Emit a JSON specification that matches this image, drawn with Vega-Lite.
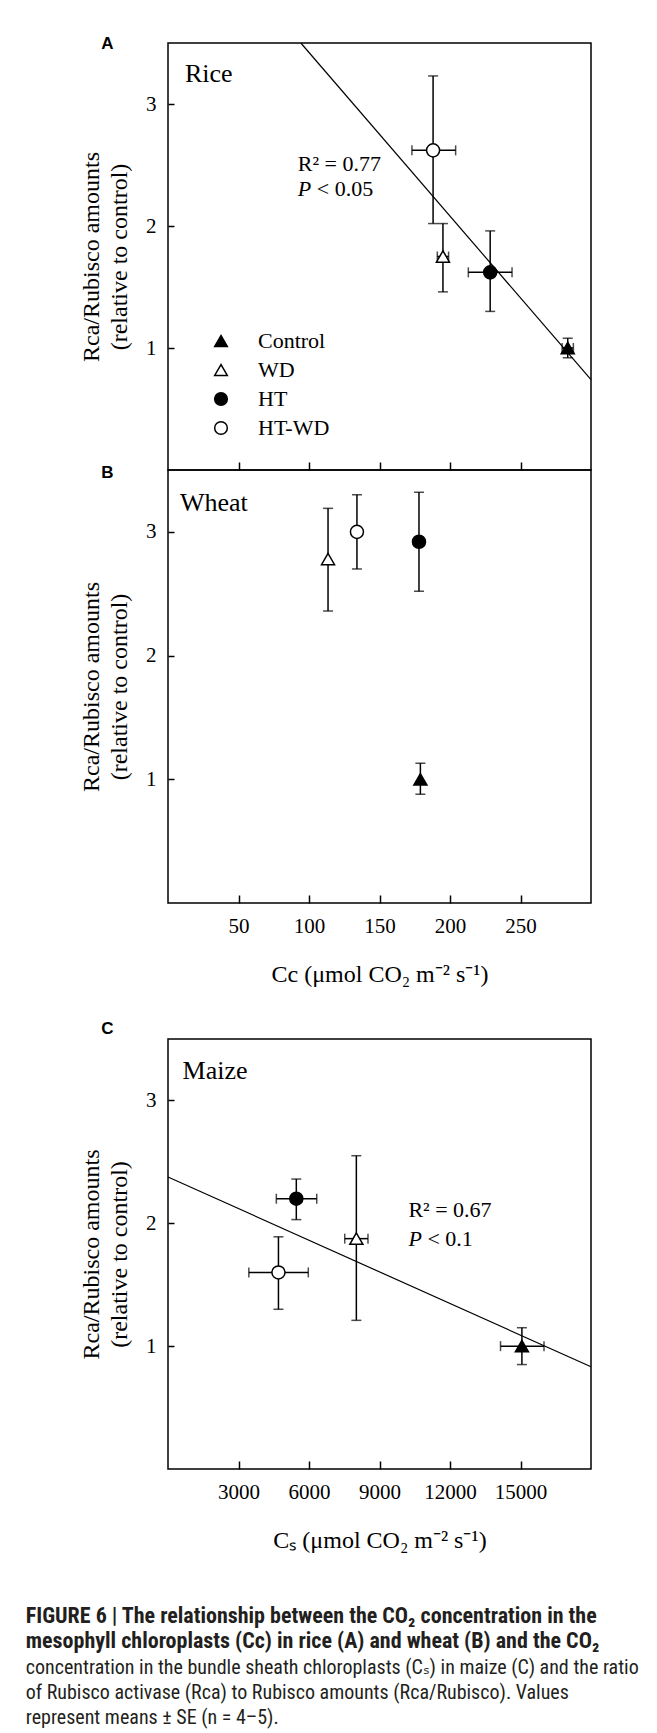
{
  "$schema": "https://vega.github.io/schema/vega-lite/v6.json",
  "background": "white",
  "padding": {"left": 25, "top": 34, "right": 10, "bottom": 4},
  "config": {
    "font": "Liberation Serif",
    "view": {"stroke": "black", "strokeWidth": 1.5},
    "axis": {"grid": false, "domain": false, "ticks": true, "tickColor": "black", "tickWidth": 1.5, "labelFont": "Liberation Serif", "labelFontSize": 21, "labelColor": "black", "titleFont": "Liberation Serif", "titleFontSize": 24, "titleFontWeight": "normal", "titleColor": "black"},
    "text": {"font": "Liberation Serif", "color": "black"}
  },
  "title": {
    "text": ["FIGURE 6 | The relationship between the CO₂ concentration in the", "mesophyll chloroplasts (Cc) in rice (A) and wheat (B) and the CO₂"],
    "subtitle": ["concentration in the bundle sheath chloroplasts (Cₛ) in maize (C) and the ratio", "of Rubisco activase (Rca) to Rubisco amounts (Rca/Rubisco). Values", "represent means ± SE (n = 4–5)."],
    "orient": "bottom", "anchor": "start", "frame": "bounds", "dx": -53, "offset": 53,
    "font": "Liberation Sans Narrow, Roboto Condensed, DejaVu Sans Condensed, Roboto, sans-serif", "fontSize": 22, "fontWeight": "bold", "color": "#231f20", "lineHeight": 25,
    "subtitleFont": "Liberation Sans Narrow, Roboto Condensed, DejaVu Sans Condensed, Roboto, sans-serif", "subtitleFontSize": 20, "subtitleFontWeight": "normal", "subtitleColor": "#231f20", "subtitleLineHeight": 25, "subtitlePadding": 5
  },
  "datasets": {
    "rice": [
      {"trt": "Control", "x": 283.5, "y": 1.0, "xlo": 279.5, "xhi": 287.5, "ylo": 0.92, "yhi": 1.08},
      {"trt": "WD", "x": 195, "y": 1.75, "xlo": 191, "xhi": 199, "ylo": 1.46, "yhi": 2.02},
      {"trt": "HT", "x": 228.5, "y": 1.62, "xlo": 213, "xhi": 244, "ylo": 1.3, "yhi": 1.96},
      {"trt": "HT-WD", "x": 188, "y": 2.62, "xlo": 173, "xhi": 204, "ylo": 2.02, "yhi": 3.23}
    ],
    "riceFit": [{"x": 94.2, "y": 3.5}, {"x": 300, "y": 0.74}],
    "wheat": [
      {"trt": "Control", "x": 179, "y": 1.0, "ylo": 0.88, "yhi": 1.13},
      {"trt": "WD", "x": 113.5, "y": 2.78, "ylo": 2.36, "yhi": 3.19},
      {"trt": "HT", "x": 178, "y": 2.92, "ylo": 2.52, "yhi": 3.32},
      {"trt": "HT-WD", "x": 134, "y": 3.0, "ylo": 2.7, "yhi": 3.3}
    ],
    "maize": [
      {"trt": "Control", "x": 15060, "y": 1.0, "xlo": 14150, "xhi": 16000, "ylo": 0.85, "yhi": 1.15},
      {"trt": "WD", "x": 8015, "y": 1.875, "xlo": 7520, "xhi": 8510, "ylo": 1.21, "yhi": 2.55},
      {"trt": "HT", "x": 5460, "y": 2.2, "xlo": 4610, "xhi": 6330, "ylo": 2.03, "yhi": 2.36},
      {"trt": "HT-WD", "x": 4700, "y": 1.6, "xlo": 3440, "xhi": 5970, "ylo": 1.3, "yhi": 1.89}
    ],
    "maizeFit": [{"x": 0, "y": 2.377}, {"x": 18000, "y": 0.832}],
    "notesA": [
      {"kind": "species", "label": "Rice", "x": 12, "y": 3.25},
      {"kind": "stat", "label": "R² = 0.77", "x": 92, "y": 2.51},
      {"kind": "p", "label": "P", "x": 92, "y": 2.3},
      {"kind": "pval", "label": "< 0.05", "x": 92, "y": 2.3},
      {"kind": "letter", "label": "A", "x": -43, "y": 3.49}
    ],
    "notesB": [
      {"kind": "species", "label": "Wheat", "x": 8.5, "y": 3.23},
      {"kind": "letter", "label": "B", "x": -43, "y": 3.476}
    ],
    "notesC": [
      {"kind": "species", "label": "Maize", "x": 622, "y": 3.24},
      {"kind": "stat", "label": "R² = 0.67", "x": 10229, "y": 2.11},
      {"kind": "p", "label": "P", "x": 10229, "y": 1.87},
      {"kind": "pval", "label": "< 0.1", "x": 10229, "y": 1.87},
      {"kind": "letter", "label": "C", "x": -2584, "y": 3.58}
    ]
  },
  "resolve": {"legend": {"shape": "independent", "fill": "independent"}},
  "spacing": 32,
  "vconcat": [
    {
      "spacing": 0,
      "bounds": "flush",
      "resolve": {"legend": {"shape": "independent", "fill": "independent"}},
      "vconcat": [
        {
          "width": 423, "height": 427,
          "layer": [
            {
              "data": {"name": "riceFit"},
              "mark": {"type": "line", "color": "black", "strokeWidth": 1.2},
              "encoding": {
                "x": {"field": "x", "type": "quantitative", "scale": {"domain": [0, 300], "nice": false}, "axis": {"values": [50, 100, 150, 200, 250], "labels": false, "title": null, "offset": -8, "tickSize": 8}},
                "y": {"field": "y", "type": "quantitative", "scale": {"domain": [0, 3.5], "nice": false}, "axis": {"values": [1, 2, 3], "format": "d", "offset": -6, "tickSize": 6, "labelPadding": 12, "title": ["Rca/Rubisco amounts", "(relative to control)"], "titleLineHeight": 28, "titlePadding": 14}}
              }
            },
            {
              "data": {"name": "rice"},
              "mark": {"type": "errorbar", "thickness": 1.5, "color": "black", "ticks": {"size": 10, "thickness": 1.5, "color": "black"}},
              "encoding": {
                "x": {"field": "x", "type": "quantitative", "title": "", "scale": {"domain": [0, 300], "nice": false}},
                "y": {"field": "ylo", "type": "quantitative", "title": "", "scale": {"domain": [0, 3.5], "nice": false}},
                "y2": {"field": "yhi"}
              }
            },
            {
              "data": {"name": "rice"},
              "mark": {"type": "errorbar", "thickness": 1.5, "color": "black", "ticks": {"size": 10, "thickness": 1.5, "color": "black"}},
              "encoding": {
                "y": {"field": "y", "type": "quantitative", "title": "", "scale": {"domain": [0, 3.5], "nice": false}},
                "x": {"field": "xlo", "type": "quantitative", "title": "", "scale": {"domain": [0, 300], "nice": false}},
                "x2": {"field": "xhi"}
              }
            },
            {
              "data": {"name": "rice"},
              "mark": {"type": "point", "filled": false, "color": "black", "strokeWidth": 1.5, "size": 170, "opacity": 1},
              "encoding": {
                "x": {"field": "x", "type": "quantitative", "scale": {"domain": [0, 300], "nice": false}},
                "y": {"field": "y", "type": "quantitative", "scale": {"domain": [0, 3.5], "nice": false}},
                "shape": {"field": "trt", "type": "nominal", "scale": {"domain": ["Control", "WD", "HT", "HT-WD"], "range": ["triangle-up", "triangle-up", "circle", "circle"]},
                          "legend": {"title": null, "orient": "none", "legendX": 42, "legendY": 287, "labelFont": "Liberation Serif", "labelFontSize": 22, "labelColor": "black", "rowPadding": 7, "labelOffset": 26, "symbolSize": 160, "padding": 0,
                                     "encode": {"symbols": {"stroke": {"value": "black"}, "strokeWidth": {"value": 1.5}}}}},
                "fill": {"field": "trt", "type": "nominal", "scale": {"domain": ["Control", "WD", "HT", "HT-WD"], "range": ["black", "white", "black", "white"]},
                         "legend": {"title": null, "orient": "none", "legendX": 42, "legendY": 287, "labelFont": "Liberation Serif", "labelFontSize": 22, "labelColor": "black", "rowPadding": 7, "labelOffset": 26, "symbolSize": 160, "padding": 0,
                                    "encode": {"symbols": {"stroke": {"value": "black"}, "strokeWidth": {"value": 1.5}}}}}
              }
            },
            {
              "data": {"name": "notesA"},
              "transform": [{"filter": "datum.kind === 'species'"}],
              "mark": {"type": "text", "align": "left", "baseline": "middle", "fontSize": 26},
              "encoding": {"x": {"field": "x", "type": "quantitative", "scale": {"domain": [0, 300], "nice": false}}, "y": {"field": "y", "type": "quantitative", "scale": {"domain": [0, 3.5], "nice": false}}, "text": {"field": "label"}}
            },
            {
              "data": {"name": "notesA"},
              "transform": [{"filter": "datum.kind === 'stat'"}],
              "mark": {"type": "text", "align": "left", "baseline": "middle", "fontSize": 22},
              "encoding": {"x": {"field": "x", "type": "quantitative", "scale": {"domain": [0, 300], "nice": false}}, "y": {"field": "y", "type": "quantitative", "scale": {"domain": [0, 3.5], "nice": false}}, "text": {"field": "label"}}
            },
            {
              "data": {"name": "notesA"},
              "transform": [{"filter": "datum.kind === 'pval'"}],
              "mark": {"type": "text", "align": "left", "baseline": "middle", "fontSize": 22, "dx": 19},
              "encoding": {"x": {"field": "x", "type": "quantitative", "scale": {"domain": [0, 300], "nice": false}}, "y": {"field": "y", "type": "quantitative", "scale": {"domain": [0, 3.5], "nice": false}}, "text": {"field": "label"}}
            },
            {
              "data": {"name": "notesA"},
              "transform": [{"filter": "datum.kind === 'p'"}],
              "mark": {"type": "text", "align": "left", "baseline": "middle", "fontSize": 22, "fontStyle": "italic"},
              "encoding": {"x": {"field": "x", "type": "quantitative", "scale": {"domain": [0, 300], "nice": false}}, "y": {"field": "y", "type": "quantitative", "scale": {"domain": [0, 3.5], "nice": false}}, "text": {"field": "label"}}
            },
            {
              "data": {"name": "notesA"},
              "transform": [{"filter": "datum.kind === 'letter'"}],
              "mark": {"type": "text", "align": "center", "baseline": "middle", "fontSize": 17, "font": "Liberation Sans", "fontWeight": "bold"},
              "encoding": {"x": {"field": "x", "type": "quantitative", "scale": {"domain": [0, 300], "nice": false}}, "y": {"field": "y", "type": "quantitative", "scale": {"domain": [0, 3.5], "nice": false}}, "text": {"field": "label"}}
            }
          ]
        },
        {
          "width": 423, "height": 433,
          "layer": [
            {
              "data": {"name": "wheat"},
              "mark": {"type": "errorbar", "thickness": 1.5, "color": "black", "ticks": {"size": 10, "thickness": 1.5, "color": "black"}},
              "encoding": {
                "x": {"field": "x", "type": "quantitative", "scale": {"domain": [0, 300], "nice": false}, "axis": {"values": [50, 100, 150, 200, 250], "format": "d", "offset": -8, "tickSize": 8, "labelPadding": 12, "title": "Cc (μmol CO₂ m⁻² s⁻¹)", "titlePadding": 26}},
                "y": {"field": "ylo", "type": "quantitative", "scale": {"domain": [0, 3.5], "nice": false}, "axis": {"values": [1, 2, 3], "format": "d", "offset": -6, "tickSize": 6, "labelPadding": 12, "title": ["Rca/Rubisco amounts", "(relative to control)"], "titleLineHeight": 28, "titlePadding": 14}},
                "y2": {"field": "yhi"}
              }
            },
            {
              "data": {"name": "wheat"},
              "mark": {"type": "point", "filled": false, "color": "black", "strokeWidth": 1.5, "size": 170, "opacity": 1},
              "encoding": {
                "x": {"field": "x", "type": "quantitative", "scale": {"domain": [0, 300], "nice": false}},
                "y": {"field": "y", "type": "quantitative", "scale": {"domain": [0, 3.5], "nice": false}},
                "shape": {"field": "trt", "type": "nominal", "scale": {"domain": ["Control", "WD", "HT", "HT-WD"], "range": ["triangle-up", "triangle-up", "circle", "circle"]}, "legend": null},
                "fill": {"field": "trt", "type": "nominal", "scale": {"domain": ["Control", "WD", "HT", "HT-WD"], "range": ["black", "white", "black", "white"]}, "legend": null}
              }
            },
            {
              "data": {"name": "notesB"},
              "transform": [{"filter": "datum.kind === 'species'"}],
              "mark": {"type": "text", "align": "left", "baseline": "middle", "fontSize": 26},
              "encoding": {"x": {"field": "x", "type": "quantitative", "scale": {"domain": [0, 300], "nice": false}}, "y": {"field": "y", "type": "quantitative", "scale": {"domain": [0, 3.5], "nice": false}}, "text": {"field": "label"}}
            },
            {
              "data": {"name": "notesB"},
              "transform": [{"filter": "datum.kind === 'letter'"}],
              "mark": {"type": "text", "align": "center", "baseline": "middle", "fontSize": 17, "font": "Liberation Sans", "fontWeight": "bold"},
              "encoding": {"x": {"field": "x", "type": "quantitative", "scale": {"domain": [0, 300], "nice": false}}, "y": {"field": "y", "type": "quantitative", "scale": {"domain": [0, 3.5], "nice": false}}, "text": {"field": "label"}}
            }
          ]
        }
      ]
    },
    {
      "width": 423, "height": 430,
      "layer": [
        {
          "data": {"name": "maizeFit"},
          "mark": {"type": "line", "color": "black", "strokeWidth": 1.2},
          "encoding": {
            "x": {"field": "x", "type": "quantitative", "scale": {"domain": [0, 18000], "nice": false}, "axis": {"values": [3000, 6000, 9000, 12000, 15000], "format": "d", "offset": -8, "tickSize": 8, "labelPadding": 12, "title": "Cₛ (μmol CO₂ m⁻² s⁻¹)", "titlePadding": 26}},
            "y": {"field": "y", "type": "quantitative", "scale": {"domain": [0, 3.5], "nice": false}, "axis": {"values": [1, 2, 3], "format": "d", "offset": -6, "tickSize": 6, "labelPadding": 12, "title": ["Rca/Rubisco amounts", "(relative to control)"], "titleLineHeight": 28, "titlePadding": 14}}
          }
        },
        {
          "data": {"name": "maize"},
          "mark": {"type": "errorbar", "thickness": 1.5, "color": "black", "ticks": {"size": 10, "thickness": 1.5, "color": "black"}},
          "encoding": {
            "x": {"field": "x", "type": "quantitative", "title": "", "scale": {"domain": [0, 18000], "nice": false}},
            "y": {"field": "ylo", "type": "quantitative", "title": "", "scale": {"domain": [0, 3.5], "nice": false}},
            "y2": {"field": "yhi"}
          }
        },
        {
          "data": {"name": "maize"},
          "mark": {"type": "errorbar", "thickness": 1.5, "color": "black", "ticks": {"size": 10, "thickness": 1.5, "color": "black"}},
          "encoding": {
            "y": {"field": "y", "type": "quantitative", "title": "", "scale": {"domain": [0, 3.5], "nice": false}},
            "x": {"field": "xlo", "type": "quantitative", "title": "", "scale": {"domain": [0, 18000], "nice": false}},
            "x2": {"field": "xhi"}
          }
        },
        {
          "data": {"name": "maize"},
          "mark": {"type": "point", "filled": false, "color": "black", "strokeWidth": 1.5, "size": 170, "opacity": 1},
          "encoding": {
            "x": {"field": "x", "type": "quantitative", "scale": {"domain": [0, 18000], "nice": false}},
            "y": {"field": "y", "type": "quantitative", "scale": {"domain": [0, 3.5], "nice": false}},
            "shape": {"field": "trt", "type": "nominal", "scale": {"domain": ["Control", "WD", "HT", "HT-WD"], "range": ["triangle-up", "triangle-up", "circle", "circle"]}, "legend": null},
            "fill": {"field": "trt", "type": "nominal", "scale": {"domain": ["Control", "WD", "HT", "HT-WD"], "range": ["black", "white", "black", "white"]}, "legend": null}
          }
        },
        {
          "data": {"name": "notesC"},
          "transform": [{"filter": "datum.kind === 'species'"}],
          "mark": {"type": "text", "align": "left", "baseline": "middle", "fontSize": 26},
          "encoding": {"x": {"field": "x", "type": "quantitative", "scale": {"domain": [0, 18000], "nice": false}}, "y": {"field": "y", "type": "quantitative", "scale": {"domain": [0, 3.5], "nice": false}}, "text": {"field": "label"}}
        },
        {
          "data": {"name": "notesC"},
          "transform": [{"filter": "datum.kind === 'stat'"}],
          "mark": {"type": "text", "align": "left", "baseline": "middle", "fontSize": 22},
          "encoding": {"x": {"field": "x", "type": "quantitative", "scale": {"domain": [0, 18000], "nice": false}}, "y": {"field": "y", "type": "quantitative", "scale": {"domain": [0, 3.5], "nice": false}}, "text": {"field": "label"}}
        },
        {
          "data": {"name": "notesC"},
          "transform": [{"filter": "datum.kind === 'pval'"}],
          "mark": {"type": "text", "align": "left", "baseline": "middle", "fontSize": 22, "dx": 19},
          "encoding": {"x": {"field": "x", "type": "quantitative", "scale": {"domain": [0, 18000], "nice": false}}, "y": {"field": "y", "type": "quantitative", "scale": {"domain": [0, 3.5], "nice": false}}, "text": {"field": "label"}}
        },
        {
          "data": {"name": "notesC"},
          "transform": [{"filter": "datum.kind === 'p'"}],
          "mark": {"type": "text", "align": "left", "baseline": "middle", "fontSize": 22, "fontStyle": "italic"},
          "encoding": {"x": {"field": "x", "type": "quantitative", "scale": {"domain": [0, 18000], "nice": false}}, "y": {"field": "y", "type": "quantitative", "scale": {"domain": [0, 3.5], "nice": false}}, "text": {"field": "label"}}
        },
        {
          "data": {"name": "notesC"},
          "transform": [{"filter": "datum.kind === 'letter'"}],
          "mark": {"type": "text", "align": "center", "baseline": "middle", "fontSize": 17, "font": "Liberation Sans", "fontWeight": "bold"},
          "encoding": {"x": {"field": "x", "type": "quantitative", "scale": {"domain": [0, 18000], "nice": false}}, "y": {"field": "y", "type": "quantitative", "scale": {"domain": [0, 3.5], "nice": false}}, "text": {"field": "label"}}
        }
      ]
    }
  ]
}
